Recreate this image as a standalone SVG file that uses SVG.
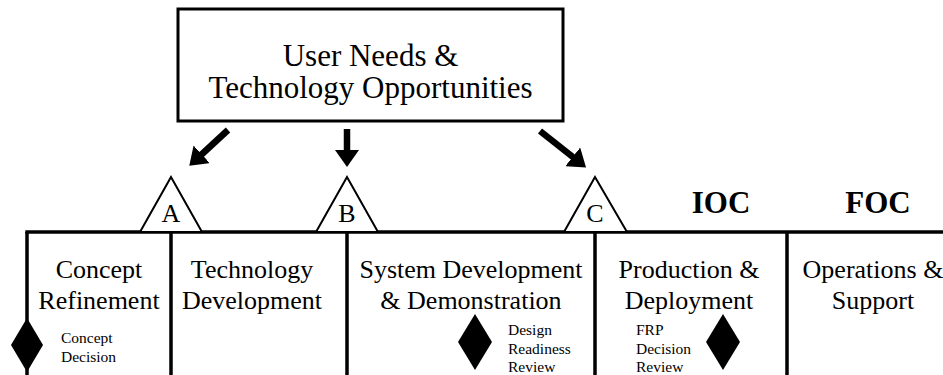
<svg xmlns="http://www.w3.org/2000/svg" width="943" height="375" viewBox="0 0 943 375">
<style>
text{font-family:"Liberation Serif","Times New Roman",serif;fill:#000}
.big{font-size:26px;text-anchor:middle}
.top{font-size:31px;text-anchor:middle}
.tri{font-size:26px;text-anchor:middle}
.ms{font-size:31px;font-weight:bold;text-anchor:middle}
.sm{font-size:15.5px}
.ln{stroke:#000;stroke-width:3.5;fill:none}
.tr{stroke:#000;stroke-width:2;fill:#fff}
.dm{fill:#000}
.ar{stroke:#000;stroke-width:6.5;fill:none}
</style>
<defs>
<marker id="ah" viewBox="0 0 17 24" refX="1" refY="12" markerWidth="17" markerHeight="24" markerUnits="userSpaceOnUse" orient="auto">
<path d="M0,0 L17,12 L0,24 z" fill="#000"/>
</marker>
</defs>
<rect width="943" height="375" fill="#fff"/>
<g id="needs">
<rect x="178" y="9" width="385" height="112" fill="#fff" stroke="#000" stroke-width="3"/>
<text class="top" x="370.5" y="66">User Needs &amp;</text>
<text class="top" x="370.5" y="98">Technology Opportunities</text>
</g>
<g id="connectors">
<line class="ar" x1="228" y1="130" x2="201" y2="155" marker-end="url(#ah)"/>
<line class="ar" x1="347" y1="129" x2="347" y2="151" marker-end="url(#ah)"/>
<line class="ar" x1="540" y1="131" x2="573.5" y2="157.5" marker-end="url(#ah)"/>
</g>
<g id="timeline">
<line class="ln" x1="25.3" y1="232" x2="943" y2="232"/>
<line class="ln" x1="27" y1="232" x2="27" y2="375"/>
<line class="ln" x1="171" y1="232" x2="171" y2="375"/>
<line class="ln" x1="347" y1="232" x2="347" y2="375"/>
<line class="ln" x1="595" y1="232" x2="595" y2="375"/>
<line class="ln" x1="787" y1="232" x2="787" y2="375"/>
</g>
<g id="milestone-a">
<polygon class="tr" points="171,177 140,232 202,232"/>
<text class="tri" x="171" y="222">A</text>
</g>
<g id="milestone-b">
<polygon class="tr" points="347,177 316,232 378,232"/>
<text class="tri" x="347" y="222">B</text>
</g>
<g id="milestone-c">
<polygon class="tr" points="595,177 564,232 627,232"/>
<text class="tri" x="595" y="222">C</text>
</g>
<g id="ioc"><text class="ms" x="721" y="213">IOC</text></g>
<g id="foc"><text class="ms" x="878" y="213">FOC</text></g>
<g id="concept-refinement">
<text class="big" x="99" y="278">Concept</text>
<text class="big" x="99" y="309">Refinement</text>
</g>
<g id="technology-development">
<text class="big" x="252" y="278">Technology</text>
<text class="big" x="252" y="309">Development</text>
</g>
<g id="sdd">
<text class="big" x="471" y="278">System Development</text>
<text class="big" x="471" y="309">&amp; Demonstration</text>
</g>
<g id="production">
<text class="big" x="689" y="278">Production &amp;</text>
<text class="big" x="689" y="309">Deployment</text>
</g>
<g id="operations">
<text class="big" x="873" y="278">Operations &amp;</text>
<text class="big" x="873" y="309">Support</text>
</g>
<g id="concept-decision">
<polygon class="dm" points="27,318 43,345 27,372 11,345"/>
<text class="sm" x="61" y="343">Concept</text>
<text class="sm" x="61" y="362">Decision</text>
</g>
<g id="design-readiness-review">
<polygon class="dm" points="475,314 492,342 475,370 458,342"/>
<text class="sm" x="508" y="335">Design</text>
<text class="sm" x="508" y="354">Readiness</text>
<text class="sm" x="508" y="372">Review</text>
</g>
<g id="frp-decision-review">
<polygon class="dm" points="723,314 740,342 723,370 706,342"/>
<text class="sm" x="636" y="335">FRP</text>
<text class="sm" x="636" y="354">Decision</text>
<text class="sm" x="636" y="372">Review</text>
</g>
</svg>
